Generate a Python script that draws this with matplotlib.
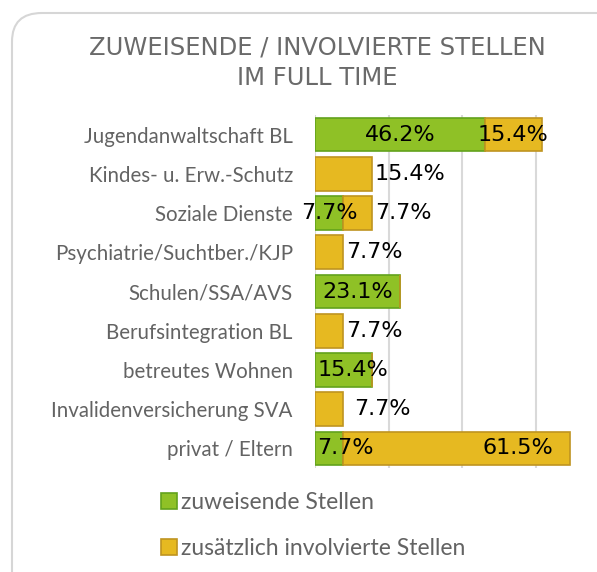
import matplotlib
matplotlib.use("Agg")
import matplotlib.pyplot as plt
from matplotlib.patches import FancyBboxPatch, Patch

# categories, top to bottom
categories = [
    "Jugendanwaltschaft BL",
    "Kindes- u. Erw.-Schutz",
    "Soziale Dienste",
    "Psychiatrie/Suchtber./KJP",
    "Schulen/SSA/AVS",
    "Berufsintegration BL",
    "betreutes Wohnen",
    "Invalidenversicherung SVA",
    "privat / Eltern",
]
zuweisend = [46.2, 0, 7.7, 0, 23.1, 0, 15.4, 0, 7.7]
involviert = [15.4, 15.4, 7.7, 7.7, 0, 7.7, 0, 7.7, 61.5]
series_names = ["zuweisende Stellen", "zusätzlich involvierte Stellen"]
x_ticks = [0, 20, 40, 60]

# how each data label is placed (label style only)
green_lbl = ["c", None, "c", None, "c", None, "c2", None, "c2"]
orange_lbl = ["c", "r", "r", "r", None, "r", None, "r2", "end"]

green, green_edge = "#8fc126", "#62a21c"
orange, orange_edge = "#e6b921", "#bf9420"
grey_txt = "#636363"

fig = plt.figure(figsize=(5.97, 5.72), dpi=100)

# rounded frame around the chart (cropped on right/bottom)
frame = FancyBboxPatch((12 / 597, -0.1), 1.2, 1.0 - 13 / 572 + 0.1,
                       boxstyle="round,pad=0,rounding_size=0.05",
                       transform=fig.transFigure, fc="none", ec="#d6d6d6",
                       lw=1.5, zorder=0)
fig.patches.append(frame)

ax = fig.add_axes([315 / 597, 1 - 468 / 572, 282 / 597, 353 / 572])
ax.patch.set_alpha(0)
ypos = list(range(len(categories)))
ax.barh(ypos, zuweisend, height=0.86, color=green, edgecolor=green_edge,
        lw=1.2, zorder=3)
ax.barh(ypos, involviert, left=zuweisend, height=0.86, color=orange,
        edgecolor=orange_edge, lw=1.2, zorder=3)

ax.set_ylim(len(categories) - 0.5, -0.5)
ax.set_xlim(0, 76.6)
ax.set_xticks(x_ticks)
ax.tick_params(axis="x", length=0, labelbottom=False)
ax.tick_params(axis="y", length=0, pad=16)
ax.set_yticks(ypos)
ax.set_yticklabels(categories, fontsize=14.8, color=grey_txt,
                   fontfamily="Lato")
ax.grid(axis="x", color="#d9d9d9", lw=1.5, zorder=0)
for s in ax.spines.values():
    s.set_visible(False)

lab_kw = dict(fontsize=16, color="black", va="center", zorder=5)
for i in ypos:
    g, o = zuweisend[i], involviert[i]
    if green_lbl[i] == "c":
        ax.text(max(g / 2, 3.4), i, f"{g:.1f}%", ha="center", **lab_kw)
    elif green_lbl[i] == "c2":
        ax.text(0.6, i, f"{g:.1f}%", ha="left", **lab_kw)
    mode = orange_lbl[i]
    if mode == "c":
        ax.text(g + o / 2, i, f"{o:.1f}%", ha="center", **lab_kw)
    elif mode == "r":
        ax.text(g + o + 0.8, i, f"{o:.1f}%", ha="left", **lab_kw)
    elif mode == "r2":
        ax.text(g + o + 2.8, i, f"{o:.1f}%", ha="left", **lab_kw)
    elif mode == "end":
        ax.text(g + o - 4.5, i, f"{o:.1f}%", ha="right", **lab_kw)

fig.text(317 / 597, 1 - 63 / 572, "ZUWEISENDE / INVOLVIERTE STELLEN\nIM FULL TIME",
         ha="center", va="center", fontsize=17.5, color="#6a6a6a",
         linespacing=1.35)

handles = [Patch(fc=green, ec=green_edge, lw=1.2),
           Patch(fc=orange, ec=orange_edge, lw=1.2)]
fig.legend(handles, series_names, loc="upper left",
           bbox_to_anchor=(140 / 597, 1 - 471 / 572), frameon=False,
           prop=dict(family="Lato", size=16.5),
           labelcolor=grey_txt, handlelength=0.7, handleheight=0.7,
           handletextpad=0.2, labelspacing=1.1)

fig.savefig("out.png", dpi=100)
